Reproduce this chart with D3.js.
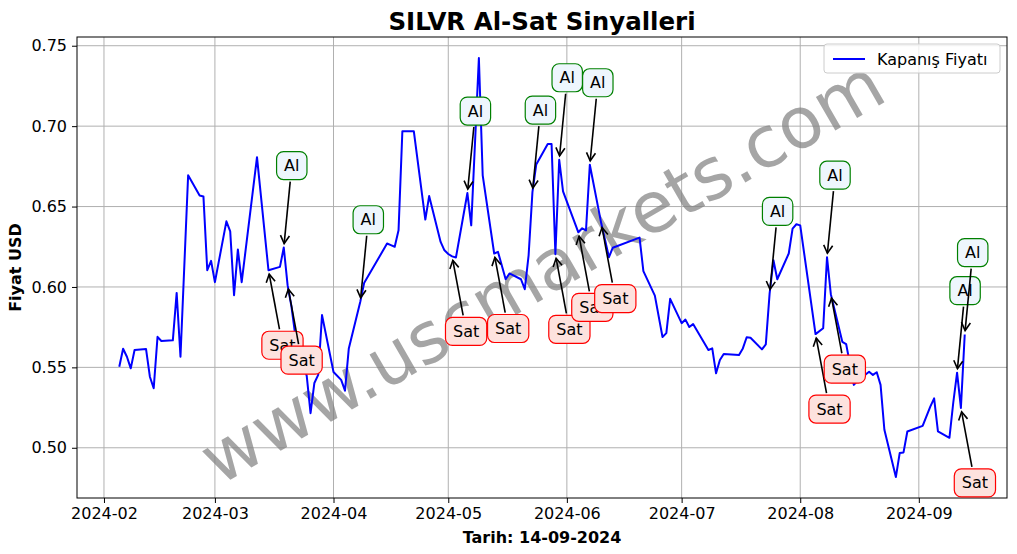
<!DOCTYPE html>
<html><head><meta charset="utf-8">
<script src="https://cdn.jsdelivr.net/npm/d3@7"></script>
<style>body{margin:0;background:#fff}svg{display:block}</style>
</head><body>
<script>
const dates = ["2024-02-05","2024-02-06","2024-02-07","2024-02-08","2024-02-09","2024-02-12","2024-02-13","2024-02-14","2024-02-15","2024-02-16",
"2024-02-19","2024-02-20","2024-02-21","2024-02-23","2024-02-26","2024-02-27","2024-02-28","2024-02-29","2024-03-01","2024-03-04",
"2024-03-05","2024-03-06","2024-03-07","2024-03-08","2024-03-12","2024-03-15","2024-03-18","2024-03-19","2024-03-20","2024-03-21",
"2024-03-22","2024-03-25","2024-03-26","2024-03-27","2024-03-28","2024-03-29","2024-04-01","2024-04-03","2024-04-04","2024-04-05",
"2024-04-08","2024-04-09","2024-04-15","2024-04-16","2024-04-17","2024-04-18","2024-04-19","2024-04-22","2024-04-25","2024-04-26",
"2024-04-29","2024-04-30","2024-05-01","2024-05-02","2024-05-03","2024-05-06","2024-05-07","2024-05-09","2024-05-10","2024-05-13",
"2024-05-14","2024-05-16","2024-05-17","2024-05-20","2024-05-21","2024-05-22","2024-05-23","2024-05-24","2024-05-27","2024-05-28",
"2024-05-29","2024-05-30","2024-05-31","2024-06-04","2024-06-05","2024-06-06","2024-06-07","2024-06-10","2024-06-11","2024-06-12",
"2024-06-13","2024-06-20","2024-06-21","2024-06-24","2024-06-26","2024-06-27","2024-06-28","2024-07-01","2024-07-02","2024-07-03",
"2024-07-04","2024-07-08","2024-07-09","2024-07-10","2024-07-11","2024-07-12","2024-07-16","2024-07-17","2024-07-18","2024-07-19",
"2024-07-22","2024-07-23","2024-07-24","2024-07-25","2024-07-26","2024-07-29","2024-07-30","2024-07-31","2024-08-01","2024-08-05",
"2024-08-07","2024-08-08","2024-08-09","2024-08-12","2024-08-13","2024-08-14","2024-08-15","2024-08-16","2024-08-19","2024-08-20",
"2024-08-21","2024-08-22","2024-08-23","2024-08-26","2024-08-27","2024-08-28","2024-08-29","2024-09-02","2024-09-04","2024-09-05",
"2024-09-06","2024-09-09","2024-09-10","2024-09-11","2024-09-12","2024-09-13"];
const closes = [0.5504,0.5616,0.5566,0.5494,0.5608,0.5614,0.5442,0.5370,0.5690,0.5664,
0.5668,0.5963,0.5566,0.6695,0.6569,0.6563,0.6104,0.6162,0.6030,0.6408,
0.6346,0.5949,0.6233,0.6030,0.6807,0.6104,0.6125,0.6245,0.6011,0.5880,
0.5700,0.5447,0.5215,0.5403,0.5453,0.5825,0.5471,0.5422,0.5355,0.5618,
0.5908,0.6024,0.6270,0.6260,0.6250,0.6352,0.6968,0.6968,0.6419,0.6565,
0.6280,0.6228,0.6205,0.6190,0.6183,0.6584,0.6383,0.7424,0.6694,0.6208,
0.6218,0.6048,0.6084,0.6048,0.5986,0.6197,0.6590,0.6762,0.6889,0.6889,
0.6203,0.6791,0.6594,0.6340,0.6365,0.6352,0.6760,0.6394,0.6290,0.6185,
0.6244,0.6307,0.6098,0.5946,0.5689,0.5713,0.5926,0.5775,0.5797,0.5751,
0.5769,0.5608,0.5618,0.5463,0.5546,0.5583,0.5577,0.5618,0.5687,0.5684,
0.5612,0.5643,0.5960,0.6166,0.6048,0.6208,0.6363,0.6390,0.6383,0.5707,
0.5743,0.6185,0.5955,0.5659,0.5645,0.5520,0.5391,0.5417,0.5473,0.5453,
0.5470,0.5391,0.5112,0.4818,0.4967,0.4971,0.5101,0.5136,0.5256,0.5307,
0.5102,0.5062,0.5280,0.5467,0.5248,0.5704];
const buyDates = ["2024-03-19","2024-04-08","2024-05-06","2024-05-23","2024-05-30","2024-06-07","2024-07-24","2024-08-08","2024-09-11","2024-09-13"];
const sellDates = ["2024-03-15","2024-03-20","2024-05-02","2024-05-13","2024-05-29","2024-06-04","2024-06-10","2024-08-05","2024-08-09","2024-09-12"];
const yTicks = [0.50,0.55,0.60,0.65,0.70,0.75];
const xTicks = ["2024-02-01","2024-03-01","2024-04-01","2024-05-01","2024-06-01","2024-07-01","2024-08-01","2024-09-01"];
const xTickLabels = ["2024-02","2024-03","2024-04","2024-05","2024-06","2024-07","2024-08","2024-09"];
const titleText = "SILVR Al-Sat Sinyalleri";
const xLabel = "Tarih: 14-09-2024";
const yLabel = "Fiyat USD";
const legendText = "Kapanış Fiyatı";
const watermark = "www.uscmarkets.com";

const W = 1017, H = 554;
const L = 77, R = 1007, T = 37, B = 498;
const FONT = "DejaVu Sans";
const parse = d3.timeParse("%Y-%m-%d");
const data = dates.map((d, i) => ({date: parse(d), v: closes[i]}));
const byDate = new Map(dates.map((d, i) => [d, closes[i]]));

const [t0, t1] = d3.extent(data, d => d.date);
const tp = (t1 - t0) * 0.05;
const x = d3.scaleTime().domain([new Date(+t0 - tp), new Date(+t1 + tp)]).range([L, R]);
const [v0, v1] = d3.extent(closes);
const vp = (v1 - v0) * 0.05;
const y = d3.scaleLinear().domain([v0 - vp, v1 + vp]).range([B, T]);

const svg = d3.select("body").append("svg").attr("width", W).attr("height", H)
  .style("font-family", FONT);
svg.append("rect").attr("width", W).attr("height", H).attr("fill", "#fff");

// grid
const grid = svg.append("g").attr("stroke", "#b0b0b0").attr("stroke-width", 1);
xTicks.forEach(t => grid.append("line").attr("x1", x(parse(t))).attr("x2", x(parse(t))).attr("y1", T).attr("y2", B));
yTicks.forEach(t => grid.append("line").attr("x1", L).attr("x2", R).attr("y1", y(t)).attr("y2", y(t)));

// watermark
svg.append("text").attr("x", (L + R) / 2).attr("y", (T + B) / 2 + 4)
  .attr("text-anchor", "middle").attr("dominant-baseline", "central")
  .attr("transform", `rotate(-30 ${(L + R) / 2} ${(T + B) / 2 + 4})`)
  .attr("font-size", 71).attr("fill", "#808080").attr("opacity", 0.7)
  .text(watermark);

// line
svg.append("path").datum(data)
  .attr("d", d3.line().x(d => x(d.date)).y(d => y(d.v)))
  .attr("fill", "none").attr("stroke", "#0000ff").attr("stroke-width", 2).attr("stroke-linejoin", "round");

// axes
const xAxis = d3.axisBottom(x).tickValues(xTicks.map(parse)).tickFormat((d, i) => xTickLabels[i]).tickSize(5).tickPadding(5);
const yAxis = d3.axisLeft(y).tickValues(yTicks).tickFormat(d3.format(".2f")).tickSize(5).tickPadding(5);
const gx = svg.append("g").attr("transform", `translate(0,${B})`).call(xAxis);
const gy = svg.append("g").attr("transform", `translate(${L},0)`).call(yAxis);
[gx, gy].forEach(g => {
  g.select(".domain").remove();
  g.selectAll("line").attr("stroke", "#000").attr("stroke-width", 1);
  g.selectAll("text").attr("font-size", 16).attr("font-family", FONT).attr("fill", "#000");
});

// frame
svg.append("rect").attr("x", L).attr("y", T).attr("width", R - L).attr("height", B - T)
  .attr("fill", "none").attr("stroke", "#000").attr("stroke-width", 1);

// labels
svg.append("text").attr("x", (L + R) / 2).attr("y", 30).attr("text-anchor", "middle")
  .attr("font-size", 24.5).attr("font-weight", "bold").text(titleText);
svg.append("text").attr("x", (L + R) / 2).attr("y", 543).attr("text-anchor", "middle")
  .attr("font-size", 16).attr("font-weight", "bold").text(xLabel);
svg.append("text").attr("transform", `translate(21,${(T + B) / 2}) rotate(-90)`).attr("text-anchor", "middle")
  .attr("font-size", 16).attr("font-weight", "bold").text(yLabel);

// legend
const lg = svg.append("g");
lg.append("rect").attr("x", 824).attr("y", 44).attr("width", 176).attr("height", 29).attr("rx", 3)
  .attr("fill", "#fff").attr("fill-opacity", 0.8).attr("stroke", "#cccccc");
lg.append("line").attr("x1", 833).attr("x2", 865).attr("y1", 59).attr("y2", 59)
  .attr("stroke", "#0000ff").attr("stroke-width", 2);
lg.append("text").attr("x", 877).attr("y", 65).attr("font-size", 16).text(legendText);

// annotations
const sigs = buyDates.map(d => ({d, type: "Al"})).concat(sellDates.map(d => ({d, type: "Sat"})))
  .sort((a, b) => a.d < b.d ? -1 : a.d > b.d ? 1 : 0);
const ann = svg.append("g");
sigs.forEach(s => {
  const px = x(parse(s.d)), py = y(byDate.get(s.d));
  const isBuy = s.type === "Al";
  const cx = px + (isBuy ? 8 : 14), cy = py + (isBuy ? -82 : 75);
  const g = ann.append("g");
  const txt = g.append("text").attr("x", cx).attr("y", cy).attr("text-anchor", "middle")
    .attr("dominant-baseline", "central").attr("font-size", 16).text(s.type);
  const tw = txt.node().getComputedTextLength();
  const bw = tw + 15, bh = 28;
  // arrow
  const dx = px - cx, dy = py - cy, len = Math.hypot(dx, dy);
  const ux = dx / len, uy = dy / len;
  const tb = Math.min(Math.abs((bh / 2) / uy), Math.abs((bw / 2) / (ux || 1e-9)));
  const sx = cx + ux * (tb + 2), sy = cy + uy * (tb + 2);
  const ex = px - ux * 4, ey = py - uy * 4;
  g.insert("line", "text").attr("x1", sx).attr("y1", sy).attr("x2", ex).attr("y2", ey)
    .attr("stroke", "#000").attr("stroke-width", 1.6);
  const hl = 8, hw = 4.5;
  const bx = ex - ux * hl, by = ey - uy * hl;
  g.insert("path", "text").attr("d",
    `M${bx - uy * hw},${by + ux * hw}L${ex},${ey}L${bx + uy * hw},${by - ux * hw}`)
    .attr("fill", "none").attr("stroke", "#000").attr("stroke-width", 1.6);
  g.insert("rect", "text").attr("x", cx - bw / 2).attr("y", cy - bh / 2).attr("width", bw).attr("height", bh)
    .attr("rx", 7).attr("fill", isBuy ? "#eef6fd" : "#fde2de")
    .attr("stroke", isBuy ? "#008000" : "#ff0000").attr("stroke-width", 1.2);
});
</script>
</body></html>
